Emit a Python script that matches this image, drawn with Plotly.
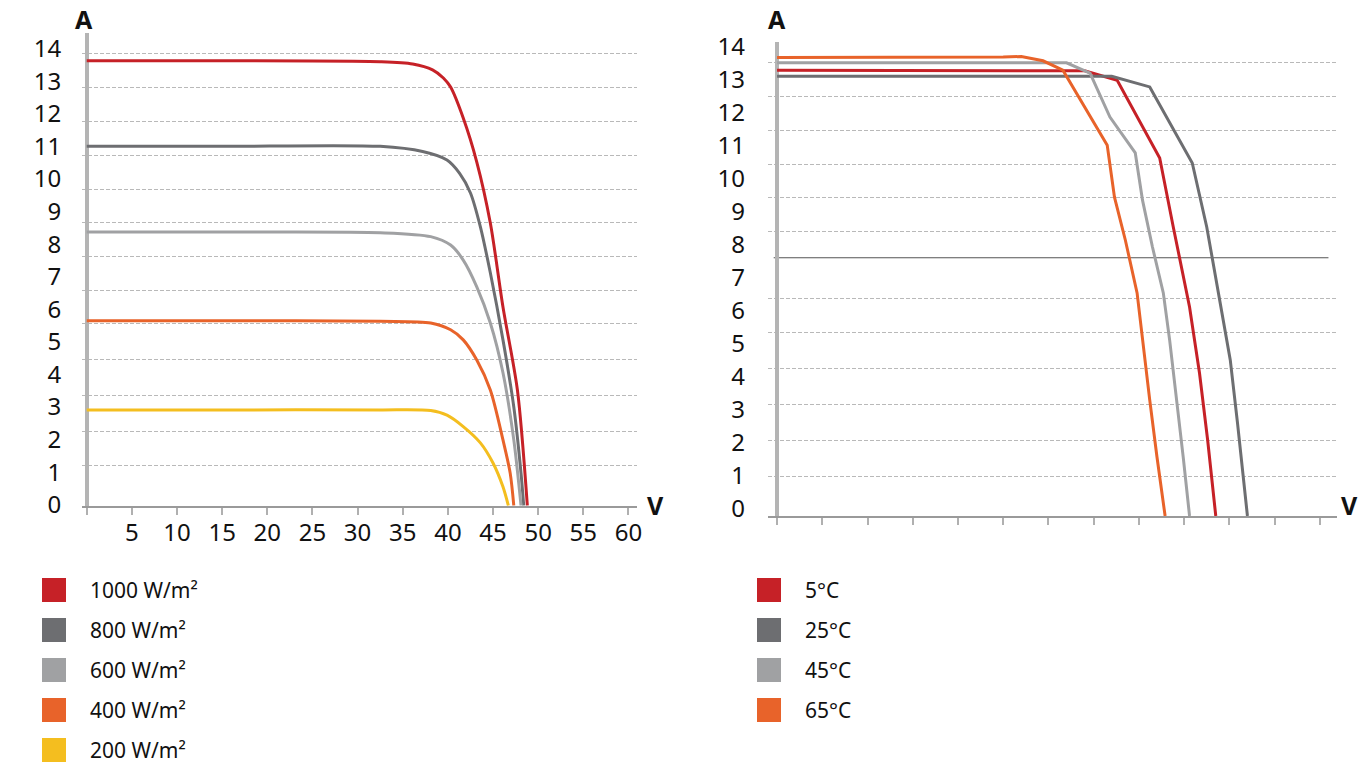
import plotly.graph_objects as go

W, H = 1361, 777

# ---------------- Left chart: I-V curves vs irradiance ----------------
irr_names = ["1000 W/m²", "800 W/m²", "600 W/m²", "400 W/m²", "200 W/m²"]
irr_colors = ["#c62127", "#6d6e71", "#a0a1a3", "#e8632a", "#f4be1f"]

v_1000 = [0, 15, 32.5, 36.1, 38.3, 39.5, 40.3, 41.7, 43.2, 44.7, 46.1, 47.7, 48.8]
i_1000 = [13.66, 13.66, 13.63, 13.56, 13.38, 13.13, 12.85, 11.9, 10.55, 8.68, 6.1, 3.55, 0]

v_800 = [0, 15, 32.5, 37.2, 39.9, 41.3, 42.5, 43.6, 44.7, 46.1, 47.3, 48.1, 48.4]
i_800 = [11.03, 11.03, 11.03, 10.87, 10.61, 10.2, 9.6, 8.56, 7.15, 5.09, 3.03, 1.0, 0]

v_600 = [0, 15, 32.5, 38.1, 40.3, 41.7, 43.2, 44.7, 46.1, 47.3, 48.1]
i_600 = [8.4, 8.4, 8.38, 8.26, 8.0, 7.54, 6.72, 5.61, 4.08, 2.02, 0]

v_400 = [0, 15, 32.5, 38.1, 40.3, 41.7, 43.2, 44.7, 46.1, 46.9, 47.3]
i_400 = [5.68, 5.68, 5.66, 5.61, 5.4, 5.09, 4.47, 3.55, 2.02, 1.0, 0]

v_200 = [0, 15, 32.5, 38.1, 39.9, 41.7, 43.6, 45.0, 46.1, 46.7]
i_200 = [2.94, 2.94, 2.94, 2.92, 2.78, 2.43, 1.93, 1.31, 0.58, 0]

irr_v = [v_1000, v_800, v_600, v_400, v_200]
irr_i = [i_1000, i_800, i_600, i_400, i_200]

# ---------------- Right chart: I-V curves vs temperature ----------------
temp_names = ["5°C", "25°C", "45°C", "65°C"]
temp_colors = ["#c62127", "#6d6e71", "#a0a1a3", "#e8632a"]

v_5 = [0, 20, 34.0, 37.6, 42.3, 43.8, 45.6, 46.7, 47.6, 48.5]
i_5 = [13.31, 13.31, 13.29, 13.01, 10.69, 8.63, 6.24, 4.27, 2.27, 0]

v_25 = [0, 20, 37.0, 41.2, 45.9, 47.5, 48.95, 50.1, 50.9, 52.0]
i_25 = [13.13, 13.13, 13.13, 12.81, 10.54, 8.63, 6.45, 4.66, 2.78, 0]

v_45 = [0, 20, 32.0, 34.6, 36.8, 39.6, 40.4, 41.5, 42.7, 43.4, 44.2, 44.9, 45.6]
i_45 = [13.53, 13.53, 13.53, 13.22, 11.91, 10.84, 9.43, 8.03, 6.66, 5.25, 3.46, 1.76, 0]

v_65 = [0, 20, 25.0, 27.0, 29.4, 31.6, 36.5, 37.3, 38.5, 39.8, 40.4, 41.2, 42.0, 42.9]
i_65 = [13.69, 13.69, 13.70, 13.72, 13.59, 13.31, 11.07, 9.52, 8.24, 6.66, 5.25, 3.46, 1.76, 0]

temp_v = [v_5, v_25, v_45, v_65]
temp_i = [i_5, i_25, i_45, i_65]

# axis ticks / gridlines
x_ticks = [0, 5, 10, 15, 20, 25, 30, 35, 40, 45, 50, 55, 60]
x_ticktext = ["", "5", "10", "15", "20", "25", "30", "35", "40", "45", "50", "55", "60"]
y_ticks = list(range(0, 15))
left_grid = [1.22, 2.29, 3.38, 4.49, 5.6, 6.62, 7.65, 8.69, 9.71, 10.75, 11.79, 12.85, 13.87]
right_grid = [1.19, 2.25, 3.33, 4.39, 5.48, 6.48, 8.49, 9.5, 10.5, 11.52, 12.52, 13.55]
right_ref_line = 7.71

FONT = "Noto Sans"

fig = go.Figure()

for name, col, vv, ii in zip(irr_names, irr_colors, irr_v, irr_i):
    fig.add_trace(go.Scatter(x=vv, y=ii, mode="lines", name=name,
                             line=dict(color=col, width=3, shape="spline", smoothing=0.8),
                             xaxis="x", yaxis="y", showlegend=False))

for name, col, vv, ii in zip(temp_names, temp_colors, temp_v, temp_i):
    fig.add_trace(go.Scatter(x=vv, y=ii, mode="lines", name=name,
                             line=dict(color=col, width=3),
                             xaxis="x2", yaxis="y2", showlegend=False))

# dummy traces so that the overlay label axes render
fig.add_trace(go.Scatter(x=[None], y=[None], xaxis="x", yaxis="y3", showlegend=False, hoverinfo="skip"))
fig.add_trace(go.Scatter(x=[None], y=[None], xaxis="x2", yaxis="y4", showlegend=False, hoverinfo="skip"))

# geometry (pixels -> paper)
def px(x):
    return x / W

def py(y):
    return 1 - y / H

xdom1 = [px(82.2), px(636.6)]
xdom2 = [px(768), px(1337)]
ydom1 = [py(505.7), py(33)]
ydom2 = [py(516), py(41.7)]

tickfont = dict(family=FONT, size=24, color="#111")
GRID = "#b9b9b9"

common_x = dict(showline=True, linecolor="#9a9a9a", linewidth=2,
                ticks="outside", ticklen=7, tickwidth=2, tickcolor="#b0b0b0",
                tickvals=x_ticks, showgrid=False,
                zeroline=True, zerolinecolor="#b4b4b4", zerolinewidth=4,
                tickfont=tickfont, fixedrange=True, automargin=False)

fig.update_layout(
    width=W, height=H,
    margin=dict(l=0, r=0, t=0, b=0, pad=0, autoexpand=False),
    showlegend=False,
    paper_bgcolor="white", plot_bgcolor="white",
    xaxis=dict(domain=xdom1, range=[-0.5, 60.9], ticktext=x_ticktext,
               anchor="y", ticklabelstandoff=-3, **common_x),
    yaxis=dict(domain=ydom1, range=[0, 14.51], tickvals=left_grid, showticklabels=False,
               showgrid=True, gridcolor=GRID, gridwidth=1, griddash="4px,2px",
               showline=False, zeroline=False, ticks="", anchor="x", automargin=False),
    yaxis3=dict(overlaying="y", anchor="x", range=[-0.03, 14.48], tickvals=y_ticks,
                showgrid=False, zeroline=False, showline=False, ticks="",
                tickfont=tickfont, ticklabelstandoff=20, automargin=False),
    xaxis2=dict(domain=xdom2, range=[-1.0, 61.9], showticklabels=False,
                anchor="y2", **common_x),
    yaxis2=dict(domain=ydom2, range=[0, 14.16], tickvals=right_grid, showticklabels=False,
                showgrid=True, gridcolor=GRID, gridwidth=1, griddash="4px,2px",
                showline=False, zeroline=False, ticks="", anchor="x2", automargin=False),
    yaxis4=dict(overlaying="y2", anchor="x2", range=[-0.212, 14.16], tickvals=y_ticks,
                showgrid=False, zeroline=False, showline=False, ticks="",
                tickfont=tickfont, ticklabelstandoff=22, automargin=False),
)

# solid reference line on the right chart
fig.add_shape(type="line", xref="x2 domain", yref="y2", x0=0.01, x1=0.985,
              y0=right_ref_line, y1=right_ref_line,
              line=dict(color="#555", width=1), layer="below")

# axis unit labels
axis_font = dict(family=FONT, size=25, color="#111")
for x, y, t in [(84, 19, "A"), (777, 19, "A"), (655, 505, "V"), (1349, 505, "V")]:
    fig.add_annotation(x=px(x), y=py(y), xref="paper", yref="paper", text="<b>%s</b>" % t,
                       showarrow=False, font=axis_font, xanchor="center", yanchor="middle",
                       borderpad=0)

# custom legends (square swatches)
leg_font = dict(family=FONT, size=21, color="#111")

def legend(names, colors, x_sq, x_txt, y0, step):
    for k, (n, c) in enumerate(zip(names, colors)):
        yc = y0 + k * step
        fig.add_shape(type="rect", xref="paper", yref="paper",
                      x0=px(x_sq), x1=px(x_sq + 24), y0=py(yc - 12), y1=py(yc + 12),
                      fillcolor=c, line=dict(width=0))
        fig.add_annotation(x=px(x_txt), y=py(yc), xref="paper", yref="paper", text=n,
                           showarrow=False, font=leg_font, xanchor="left", yanchor="middle")

legend(irr_names, irr_colors, 42, 88, 590, 40)
legend(temp_names, temp_colors, 757, 803, 590, 40)

fig.write_html("out.html", config={"displayModeBar": False},
               post_script="document.body.style.margin='0';document.body.style.overflow='hidden';")
